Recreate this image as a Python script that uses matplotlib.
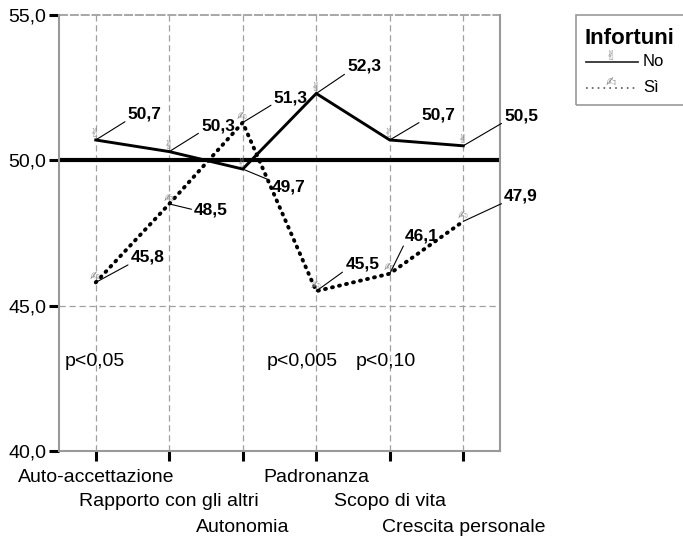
import matplotlib
matplotlib.use("Agg")
import matplotlib.pyplot as plt
import matplotlib.transforms as mtransforms
from matplotlib.lines import Line2D
from matplotlib.patches import Rectangle

plt.rcParams['font.family'] = ['Liberation Sans', 'DejaVu Sans']

categories = ["Auto-accettazione", "Rapporto con gli altri", "Autonomia",
              "Padronanza", "Scopo di vita", "Crescita personale"]
no_values = [50.7, 50.3, 49.7, 52.3, 50.7, 50.5]
si_values = [45.8, 48.5, 51.3, 45.5, 46.1, 47.9]
y_ticks = [40.0, 45.0, 50.0, 55.0]
p_labels = ["p<0,05", "p<0,005", "p<0,10"]
p_positions = [-0.42, 2.33, 3.53]

# value-label placement: offset in pixels of the label's left/centre, and the
# point on the label box where the leader line attaches
no_label_offsets = [(32, 26), (32, 26), (29, -18), (31, 27), (32, 25), (41, 30)]
no_label_relpos = [(0, 0.1), (0, 0.1), (0, 0.9), (0, 0.1), (0, 0.1), (0, 0.1)]
si_label_offsets = [(35, 25), (25, -6), (31, 25), (29, 27), (15, 38), (41, 25)]
si_label_relpos = [(0, 0.1), (0, 0.5), (0, 0.1), (0, 0.1), (0, 0.0), (0, 0.1)]

W, H = 683, 538
fig = plt.figure(figsize=(W / 100, H / 100), dpi=100)
ax = fig.add_axes([59 / W, 1 - 451 / H, 441 / W, 436 / H])

x = list(range(len(categories)))
ax.set_xlim(-0.5, len(categories) - 0.5)
ax.set_ylim(40, 55)

grid_col = '#a0a0a0'
for xi in x:
    ax.axvline(xi, color=grid_col, lw=0.9, ls=(0, (5, 3)), zorder=1)
ax.axhline(45, color=grid_col, lw=0.9, ls=(0, (5, 3)), zorder=1)
ax.axhline(55, color=grid_col, lw=1.3, ls=(0, (5, 1)), zorder=1, clip_on=False)
ax.axhline(50, color='black', lw=3.0, zorder=2)

for s in ['left', 'right', 'bottom']:
    ax.spines[s].set_color('#999999')
    ax.spines[s].set_linewidth(1.5)
ax.spines['top'].set_visible(False)

ax.plot(x, no_values, color='black', lw=2.1, zorder=4, solid_joinstyle='miter')
ax.plot(x, si_values, color='black', lw=2.8, ls=(0, (0.25, 1.6)),
        dash_capstyle='round', zorder=4)

icon_no, icon_si = '\u270C', '\u270D'
icon_col = '#8a8a8a'
for xi, v in zip(x, no_values):
    ax.annotate(icon_no, xy=(xi, v), xytext=(-1, 6), textcoords='offset pixels',
                ha='center', va='center', fontsize=8.5, color=icon_col,
                family='DejaVu Sans', zorder=5)
for xi, v in zip(x, si_values):
    ax.annotate(icon_si, xy=(xi, v), xytext=(-1, 6), textcoords='offset pixels',
                ha='center', va='center', fontsize=8.5, color=icon_col,
                family='DejaVu Sans', zorder=5)

def fmt(v):
    return f"{v:.1f}".replace('.', ',')

def value_labels(values, offsets, relpos):
    for xi, v, off, rp in zip(x, values, offsets, relpos):
        ax.annotate(fmt(v), xy=(xi, v), xytext=off, textcoords='offset pixels',
                    ha='left', va='center', fontsize=12.5, fontweight='bold',
                    annotation_clip=False,
                    arrowprops=dict(arrowstyle='-', color='black', lw=0.8,
                                    shrinkA=0, shrinkB=0, relpos=rp),
                    zorder=6)

value_labels(no_values, no_label_offsets, no_label_relpos)
value_labels(si_values, si_label_offsets, si_label_relpos)

for lbl, px in zip(p_labels, p_positions):
    ax.text(px, 43.08, lbl, ha='left', va='center', fontsize=14)

ax.set_yticks(y_ticks)
ax.set_yticklabels([fmt(v) for v in y_ticks], fontsize=14)
ax.set_xticks(x)
ax.set_xticklabels([])
ax.tick_params(axis='both', length=7, width=2.2, color='black', pad=2)

# category names staggered over three rows below the axis
row_px = [477, 502, 527]
xlab_tr = mtransforms.blended_transform_factory(ax.transData, fig.transFigure)
for i, (xi, name) in enumerate(zip(x, categories)):
    ax.text(xi, 1 - row_px[i % 3] / H, name, transform=xlab_tr,
            ha='center', va='center', fontsize=14, clip_on=False)

# legend box
def fx(px):
    return px / W

def fy(py):
    return 1 - py / H

fig.patches.append(Rectangle((fx(576), fy(105)), fx(700) - fx(576), fy(15) - fy(105),
                             transform=fig.transFigure, fill=False,
                             edgecolor='#999999', lw=1.2, clip_on=False))
fig.text(fx(585), fy(38), "Infortuni", fontsize=16, fontweight='bold',
         ha='left', va='center')
fig.add_artist(Line2D([fx(586), fx(638)], [fy(62), fy(62)], color='#333333',
                      lw=1.3, transform=fig.transFigure))
fig.add_artist(Line2D([fx(586), fx(637)], [fy(88), fy(88)], color='#555555',
                      lw=1.2, ls=(0, (1, 2.5)), transform=fig.transFigure))
fig.text(fx(611), fy(56), icon_no, fontsize=9, color=icon_col,
         family='DejaVu Sans', ha='center', va='center')
fig.text(fx(611), fy(82), icon_si, fontsize=9, color=icon_col,
         family='DejaVu Sans', ha='center', va='center')
fig.text(fx(643), fy(62), "No", fontsize=12, ha='left', va='center')
fig.text(fx(643), fy(88), "Sì", fontsize=12, ha='left', va='center')

fig.savefig("out.png", dpi=100)
